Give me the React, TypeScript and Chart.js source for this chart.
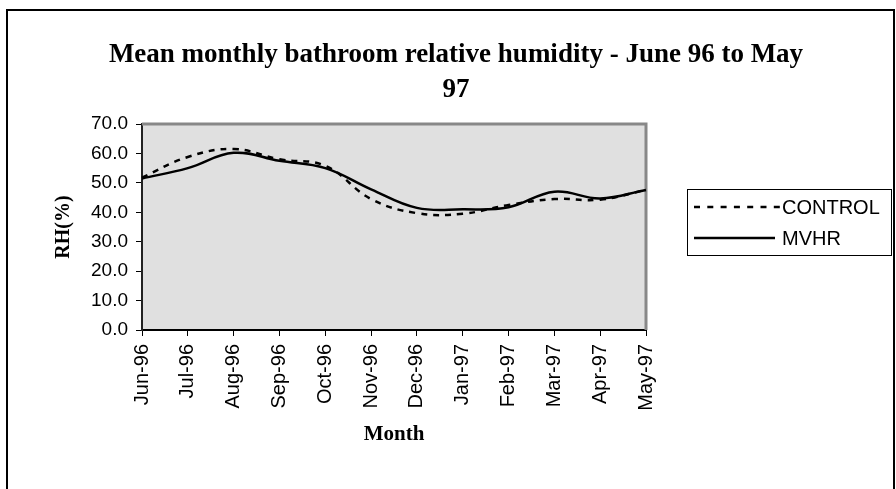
import React, { useEffect, useRef } from 'react';
import { Chart, registerables } from 'chart.js';

Chart.register(...registerables);

const categories = ['Jun-96', 'Jul-96', 'Aug-96', 'Sep-96', 'Oct-96', 'Nov-96', 'Dec-96', 'Jan-97', 'Feb-97', 'Mar-97', 'Apr-97', 'May-97'];
const controlValues = [51.8, 58.8, 61.5, 58.0, 55.8, 44.5, 39.7, 39.5, 42.5, 44.5, 44.3, 47.6];
const mvhrValues = [51.5, 55.0, 60.2, 57.5, 55.0, 47.8, 41.5, 41.0, 41.7, 47.0, 44.7, 47.6];
const yMin = 0;
const yMax = 70;
const yStep = 10;
const titleLines = ['Mean monthly bathroom relative humidity - June 96 to May', '97'];
const xTitle = 'Month';
const yTitle = 'RH(%)';
const seriesNames = ['CONTROL', 'MVHR'];

const SANS = '"Liberation Sans", Arial, sans-serif';
const SERIF = '"Liberation Serif", "Times New Roman", serif';

const decor = {
  id: 'decor',
  beforeDraw(chart: any) {
    const { ctx, chartArea } = chart;
    ctx.save();
    ctx.fillStyle = '#ffffff';
    ctx.fillRect(0, 0, chart.width, chart.height);
    ctx.fillStyle = '#e0e0e0';
    ctx.fillRect(chartArea.left, chartArea.top, chartArea.right - chartArea.left, chartArea.bottom - chartArea.top);
    ctx.restore();
  },
  beforeDatasetsDraw(chart: any) {
    const { ctx, chartArea } = chart;
    ctx.save();
    ctx.strokeStyle = '#888888';
    ctx.lineWidth = 3;
    ctx.beginPath();
    ctx.moveTo(chartArea.left, chartArea.top);
    ctx.lineTo(chartArea.right, chartArea.top);
    ctx.lineTo(chartArea.right, chartArea.bottom);
    ctx.stroke();
    ctx.restore();
  },
  afterDraw(chart: any) {
    const { ctx, chartArea } = chart;
    ctx.save();
    // outer border
    ctx.strokeStyle = '#000';
    ctx.lineWidth = 2;
    ctx.beginPath();
    ctx.moveTo(7, 489);
    ctx.lineTo(7, 10);
    ctx.lineTo(894, 10);
    ctx.lineTo(894, 489);
    ctx.stroke();

    // title
    ctx.fillStyle = '#000';
    ctx.textAlign = 'center';
    ctx.textBaseline = 'middle';
    ctx.font = `bold 27px ${SERIF}`;
    ctx.fillText(titleLines[0], 456, 55);
    ctx.fillText(titleLines[1], 456, 90);

    // axis titles
    ctx.font = `bold 21px ${SERIF}`;
    ctx.fillText(xTitle, 394, 435);
    ctx.save();
    ctx.translate(64, (chartArea.top + chartArea.bottom) / 2);
    ctx.rotate(-Math.PI / 2);
    ctx.font = `bold 20px ${SERIF}`;
    ctx.fillText(yTitle, 0, 0);
    ctx.restore();

    // legend
    ctx.lineWidth = 1;
    ctx.strokeStyle = '#000';
    ctx.strokeRect(687.5, 189.5, 204, 66);
    ctx.font = `20px ${SANS}`;
    ctx.textAlign = 'left';
    const rows = [207, 238];
    rows.forEach((y, i) => {
      ctx.beginPath();
      ctx.lineWidth = 2.5;
      ctx.setLineDash(i === 0 ? [6, 7.3] : []);
      ctx.moveTo(694, y);
      ctx.lineTo(i === 0 ? 781 : 775, y);
      ctx.stroke();
      ctx.setLineDash([]);
      ctx.fillText(seriesNames[i], 782, y + 1);
    });
    ctx.restore();
  },
};

export default function App() {
  const ref = useRef<HTMLCanvasElement>(null);
  useEffect(() => {
    const chart = new Chart(ref.current as HTMLCanvasElement, {
      type: 'line',
      data: {
        labels: categories,
        datasets: [
          { label: seriesNames[0], data: controlValues, borderColor: '#000', borderWidth: 2.5, borderDash: [6, 6], pointRadius: 0, tension: 0.4, fill: false },
          { label: seriesNames[1], data: mvhrValues, borderColor: '#000', borderWidth: 2.5, pointRadius: 0, tension: 0.4, fill: false },
        ],
      },
      options: {
        responsive: false,
        animation: false,
        devicePixelRatio: 1,
        layout: { padding: { left: 0, top: 124, right: 250, bottom: 0 } },
        plugins: { legend: { display: false }, title: { display: false }, tooltip: { enabled: false } },
        scales: {
          x: {
            type: 'category',
            offset: false,
            grid: { drawOnChartArea: false, drawTicks: true, tickLength: 6, color: '#000', lineWidth: 1 },
            border: { color: '#000', width: 2 },
            ticks: { minRotation: 90, maxRotation: 90, autoSkip: false, color: '#000', padding: 8, font: { family: SANS, size: 20 } },
            afterFit: (s: any) => { s.height = 159; },
          },
          y: {
            min: yMin,
            max: yMax,
            grid: { drawOnChartArea: false, drawTicks: true, tickLength: 6, color: '#000', lineWidth: 1 },
            border: { color: '#222', width: 2 },
            ticks: { stepSize: yStep, color: '#000', padding: 8, font: { family: SANS, size: 19 }, callback: (v: any) => Number(v).toFixed(1) },
            afterFit: (s: any) => { s.width = 142; },
          },
        },
      },
      plugins: [decor],
    });
    return () => chart.destroy();
  }, []);
  return (
    <div style={{ position: 'fixed', left: 0, top: 0, width: 896, height: 489, background: '#fff' }}>
      <canvas ref={ref} width={896} height={489} style={{ display: 'block' }} />
    </div>
  );
}
